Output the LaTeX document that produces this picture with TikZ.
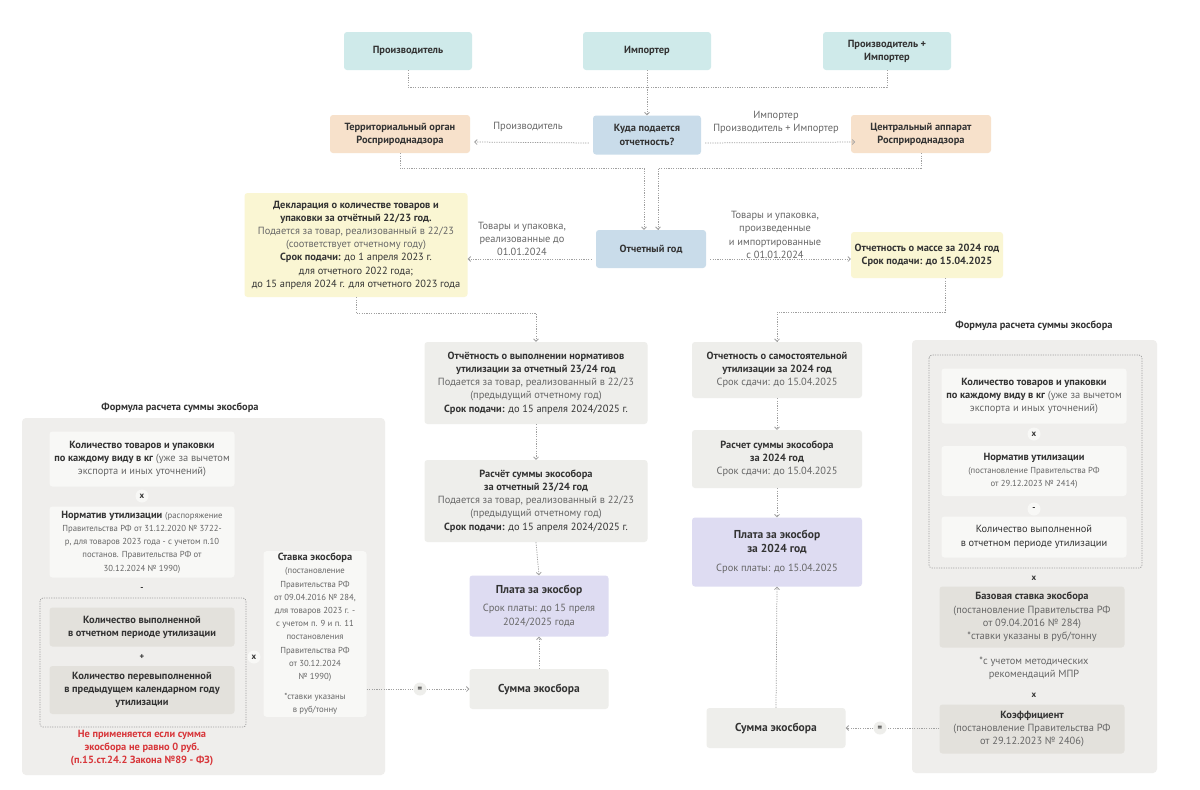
\documentclass[tikz,border=0pt]{standalone}
\usepackage{fontspec}
\setmainfont{PT Sans}
\usetikzlibrary{arrows.meta,calc}
\definecolor{cteal}{HTML}{CFEAEA}
\definecolor{cpeach}{HTML}{F7E1CB}
\definecolor{cblue}{HTML}{C9DCEA}
\definecolor{cyel}{HTML}{FAF6D3}
\definecolor{cgray}{HTML}{EEEEEB}
\definecolor{clav}{HTML}{DEDCF2}
\definecolor{cpanel}{HTML}{EFEEEC}
\definecolor{cinner}{HTML}{F8F8F6}
\definecolor{cdark}{HTML}{E3E1DC}
\definecolor{txt}{HTML}{333333}
\definecolor{gr}{HTML}{666666}
\definecolor{cline}{HTML}{A0A0A0}
\definecolor{cred}{HTML}{D8363A}
\newcommand{\fA}{\fontsize{10.4}{13.2}\selectfont}
\newcommand{\fB}{\fontsize{8.7}{11}\selectfont}
\newcommand{\fC}{\fontsize{11.5}{14}\selectfont}
\tikzset{
  base/.style={rounded corners=3, align=center, inner sep=2, font=\fA, text=txt},
  tealbox/.style={base, fill=cteal, minimum width=128, minimum height=38},
  peachbox/.style={base, fill=cpeach, minimum width=140, minimum height=38},
  bluebox/.style={base, fill=cblue, minimum width=108, minimum height=39},
  yelbox/.style={base, fill=cyel},
  graybox/.style={base, fill=cgray},
  lavbox/.style={base, fill=clav},
  innerbox/.style={base, fill=cinner},
  darkbox/.style={base, fill=cdark},
  lbl/.style={align=center, font=\fA, text=gr, inner sep=1},
  op/.style={circle, fill=cinner, inner sep=1.5, font=\fB\bfseries, text=txt, minimum size=13},
  dl/.style={draw=cline, line width=0.75pt, dash pattern=on 1.2pt off 1.2pt},
  dla/.style={dl, -{Straight Barb[length=2.5pt,width=5pt]}},
}
\begin{document}
\begin{tikzpicture}[x=1pt,y=-1pt]
\useasboundingbox (0,0) rectangle (1200,790);
\fill[white] (0,0) rectangle (1200,790);

% panels
\fill[cpanel, rounded corners=4] (22,418) rectangle (385,775);
\fill[cpanel, rounded corners=4] (912,340) rectangle (1157,773);
\draw[dl, rounded corners=3] (40,598) rectangle (246,727);
\draw[dl, rounded corners=3] (929,355) rectangle (1142,568);

% top row
\node[tealbox] (prod) at (408,51) {\bfseries Производитель};
\node[tealbox] (imp) at (647,51) {\bfseries Импортер};
\node[tealbox] (pi) at (887,51) {\bfseries Производитель +\\\bfseries Импортер};
\coordinate (hj) at (647,87);
\draw[dl] (prod.south) |- (hj);
\draw[dl] (pi.south) |- (hj);

% row 2
\node[bluebox] (kuda) at (647,135) {\bfseries Куда подается\\\bfseries отчетность?};
\node[peachbox] (terr) at (400,134) {\bfseries Территориальный орган\\\bfseries Росприроднадзора};
\node[peachbox] (centr) at (921,134) {\bfseries Центральный аппарат\\\bfseries Росприроднадзора};
\draw[dla] (imp.south) -- (kuda.north);
\draw[dla] ($(kuda.west)+(-4,8)$) -- ($(terr.east)+(4,8)$);
\node[lbl] (lprod) at (528,127) {Производитель};
\draw[dla] ($(kuda.east)+(4,8)$) -- ($(centr.east)+(-136,8)$);
\node[lbl] (limp) at (776,122) {Импортер\\Производитель + Импортер};

% row 3
\node[bluebox, minimum width=110, minimum height=38] (og) at (651,249) {\bfseries Отчетный год};
\draw[dla] (terr.south) -- ++(0,15) -| ([xshift=-7]og.north);
\draw[dla] (centr.south) -- ++(0,15) -| ([xshift=7]og.north);

\node[yelbox, minimum width=223, minimum height=104] (decl) at (356,245)
 {\bfseries Декларация о количестве товаров и\\
  \bfseries упаковки за отчётный 22/23 год.\\
  {\color{gr}Подается за товар, реализованный в 22/23}\\
  {\color{gr}(соответствует отчетному году)}\\
  \textbf{Срок подачи:} до 1 апреля 2023 г.\\
  для отчетного 2022 года;\\
  до 15 апреля 2024 г. для отчетного 2023 года};
\node[yelbox, minimum width=152, minimum height=46] (mass) at (927,255)
 {\bfseries Отчетность о массе за 2024 год\\\bfseries Срок подачи: до 15.04.2025};

\draw[dla] (og.west |- 0,259) ++(-4,0) -- (decl.east |- 0,259);
\node[lbl] (lrel) at (522,239) {Товары и упаковка,\\реализованные до\\01.01.2024};
\draw[dla] (og.east |- 0,259) ++(4,0) -- (mass.west |- 0,259);
\node[lbl] (lpro) at (775,235) {Товары и упаковка,\\произведенные\\и импортированные\\с 01.01.2024};

% center column
\node[graybox, minimum width=223, minimum height=82] (vyp) at (536,383)
 {\bfseries Отчётность о выполнении нормативов\\
  \bfseries утилизации за отчетный 23/24 год\\
  {\color{gr}Подается за товар, реализованный в 22/23}\\
  {\color{gr}(предыдущий отчетному год)}\\
  \textbf{Срок подачи:} до 15 апреля 2024/2025 г.};
\node[graybox, minimum width=223, minimum height=82] (rasch) at (536,501)
 {\bfseries Расчёт суммы экособора\\
  \bfseries за отчетный 23/24 год\\
  {\color{gr}Подается за товар, реализованный в 22/23}\\
  {\color{gr}(предыдущий отчетному год)}\\
  \textbf{Срок подачи:} до 15 апреля 2024/2025 г.};
\node[lavbox, minimum width=139, minimum height=61] (plata1) at (539,606)
 {{\fC\bfseries Плата за экосбор}\\[5pt]
  {\color{gr}Срок платы: до 15 преля}\\{\color{gr}2024/2025 года}};
\node[graybox, minimum width=139, minimum height=40] (summa1) at (539,689)
 {\fC\bfseries Сумма экосбора};
\draw[dla] (decl.south) -- ++(0,16) -| (vyp.north);
\draw[dla] (vyp.south) -- (rasch.north);
\draw[dla] (rasch.south) -- (plata1.north);
\draw[dla] (summa1.north) -- (plata1.south);

% right column
\node[graybox, minimum width=170, minimum height=56] (sam) at (777,370)
 {\bfseries Отчетность о самостоятельной\\
  \bfseries утилизации за 2024 год\\
  {\color{gr}Срок сдачи: до 15.04.2025}};
\node[graybox, minimum width=170, minimum height=58] (r24) at (777,459)
 {\bfseries Расчет суммы экособора\\
  \bfseries за 2024 год\\
  {\color{gr}Срок сдачи: до 15.04.2025}};
\node[lavbox, minimum width=170, minimum height=69] (p24) at (777,552)
 {{\fC\bfseries Плата за экосбор}\\{\fC\bfseries за 2024 год}\\[6pt]
  {\color{gr}Срок платы: до 15.04.2025}};
\node[graybox, minimum width=139, minimum height=40] (s2) at (776,728)
 {\fC\bfseries Сумма экосбора};
\draw[dla] ([xshift=18]mass.south) -- ++(0,34) -| (sam.north);
\draw[dla] (sam.south) -- (r24.north);
\draw[dla] (r24.south) -- (p24.north);
\draw[dla] (s2.north) -- (p24.south);

% left formula
\node[font=\fA\bfseries, text=txt] (t1) at (180,408) {Формула расчета суммы экосбора};
\node[innerbox, minimum width=185, minimum height=55] (lq) at (142,459)
 {\bfseries Количество товаров и упаковки\\
  \textbf{по каждому виду в кг} {\color{gr}(уже за вычетом}\\
  {\color{gr}экспорта и иных уточнений)}};
\node[op] (lx1) at (142,496) {x};
\node[innerbox, minimum width=185, minimum height=71] (ln) at (142,542)
 {\textbf{Норматив утилизации} {\fB\color{gr}(распоряжение}\\
  {\fB\color{gr}Правительства РФ от 31.12.2020 № 3722-}\\
  {\fB\color{gr}р, для товаров 2023 года - с учетом п.10}\\
  {\fB\color{gr}постанов. Правительства  РФ от}\\
  {\fB\color{gr}30.12.2024 № 1990)}};
\node[op, fill=cpanel] (lm) at (142,589) {-};
\node[darkbox, minimum width=185, minimum height=39] (lv) at (142,627)
 {\bfseries Количество выполненной\\\bfseries в отчетном периоде утилизации};
\node[op, fill=cpanel] (lp) at (142,657) {+};
\node[darkbox, minimum width=185, minimum height=48] (lpv) at (142,690)
 {\bfseries Количество перевыполненной\\\bfseries в предыдущем календарном году\\\bfseries утилизации};
\node[align=center, font=\fA\bfseries, text=cred] (red) at (142,748)
 {Не применяется если сумма\\экосбора не равно 0 руб.\\(п.15.ст.24.2 Закона №89 - ФЗ)};
\node[op, fill=cinner] (lx2) at (254,657) {x};
\node[innerbox, minimum width=103, minimum height=164] (stav) at (315,634)
 {\textbf{Ставка экосбора}\\
  {\fB\color{gr}(постановление}\\
  {\fB\color{gr}Правительства РФ}\\
  {\fB\color{gr}от 09.04.2016 № 284,}\\
  {\fB\color{gr}для товаров 2023 г. -}\\
  {\fB\color{gr}с учетом п. 9 и п. 11}\\
  {\fB\color{gr}постановления}\\
  {\fB\color{gr}Правительства РФ}\\
  {\fB\color{gr}от 30.12.2024}\\
  {\fB\color{gr}№ 1990)}\\[7pt]
  {\fB\color{gr}*ставки указаны}\\
  {\fB\color{gr}в руб/тонну}};
\node[op, fill=cgray] (eq1) at (420,689) {=};
\draw[dl] (stav.east |- summa1) -- (eq1);
\draw[dla] (eq1) -- (summa1.west);

% right formula
\node[font=\fA\bfseries, text=txt] (t2) at (1034,326) {Формула расчета суммы экосбора};
\node[innerbox, minimum width=185, minimum height=55] (rq) at (1034,396)
 {\bfseries Количество товаров и упаковки\\
  \textbf{по каждому виду в кг} {\color{gr}(уже за вычетом}\\
  {\color{gr}экспорта и иных уточнений)}};
\node[op] (rx1) at (1034,434) {x};
\node[innerbox, minimum width=185, minimum height=50] (rn) at (1034,471)
 {\textbf{Норматив утилизации}\\
  {\fB\color{gr}(постановление Правительства РФ}\\
  {\fB\color{gr}от 29.12.2023 № 2414)}};
\node[op] (rm) at (1034,509) {-};
\node[innerbox, minimum width=185, minimum height=41] (rv) at (1034,537)
 {Количество выполненной\\в отчетном периоде утилизации};
\node[op, fill=cpanel] (rx2) at (1034,578) {x};
\node[darkbox, minimum width=185, minimum height=61] (rb) at (1032,617)
 {\textbf{Базовая ставка экосбора}\\
  {\color{gr}(постановление Правительства РФ}\\
  {\color{gr}от 09.04.2016 № 284)}\\
  {\color{gr}*ставки указаны в руб/тонну}};
\node[lbl] (rmpr) at (1034,668) {*с учетом методических\\рекомендаций МПР};
\node[op, fill=cpanel] (rx3) at (1034,695) {x};
\node[darkbox, minimum width=185, minimum height=49] (rk) at (1032,729)
 {\textbf{Коэффициент}\\
  {\color{gr}(постановление Правительства РФ}\\
  {\color{gr}от 29.12.2023 № 2406)}};
\node[op, fill=cgray] (eq2) at (880,728) {=};
\draw[dl] (rk.west |- s2) -- (eq2);
\draw[dla] (eq2) -- (s2.east);
\end{tikzpicture}
\end{document}
